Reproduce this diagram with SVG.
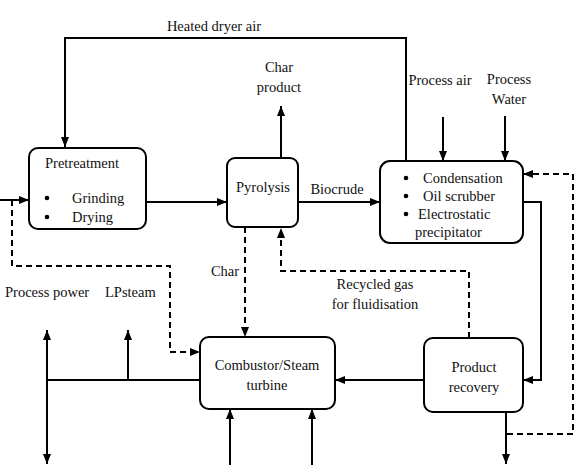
<svg xmlns="http://www.w3.org/2000/svg" width="579" height="465" viewBox="0 0 579 465" font-family="'Liberation Serif', 'Times New Roman', serif">
<style>
text{font-family:"Liberation Serif","Times New Roman",serif;font-size:14.5px;fill:#111}
.c{text-anchor:middle}
.box{fill:#fff;stroke:#000;stroke-width:2}
.ln{fill:none;stroke:#000;stroke-width:2}
.ds{fill:none;stroke:#000;stroke-width:2;stroke-dasharray:6 4}
.a{marker-end:url(#ah)}
</style>
<defs>
<marker id="ah" markerUnits="userSpaceOnUse" markerWidth="10" markerHeight="10" refX="10" refY="5" orient="auto-start-reverse" viewBox="0 0 10 10">
<path d="M0,1 L10,5 L0,9 z" fill="#000"/>
</marker>
</defs>
<g id="connectors">
<path class="ln a" d="M406,161 V38 H65 V147"/>
<path class="ln a" d="M0,200 H29"/>
<path class="ln a" d="M146,202 H227"/>
<path class="ln a" d="M281,158 V106"/>
<path class="ln a" d="M298,202 H380"/>
<path class="ln a" d="M443,117 V161"/>
<path class="ln a" d="M505,116 V161"/>
<path class="ln a" d="M523,202 H541 V380 H523"/>
<path class="ds a" d="M507,434 H573 V174 H523"/>
<path class="ds a" d="M469,338 V271 H281 V228"/>
<path class="ds a" d="M245,227 V337"/>
<path class="ds a" d="M12,200 V266 H170 V352 H200"/>
<path class="ln a" d="M506,412 V464"/>
<path class="ln a" d="M424,380 H335"/>
<path class="ln" d="M200,380 H47"/>
<path class="ln a" d="M47,380 V330"/>
<path class="ln a" d="M47,380 V464"/>
<path class="ln a" d="M128,380 V330"/>
<path class="ln a" d="M230,465 V409"/>
<path class="ln a" d="M312,465 V409"/>
</g>
<g id="labels">
<text class="c" x="214" y="31">Heated dryer air</text>
<text class="c" x="279" y="72">Char</text>
<text class="c" x="279" y="92">product</text>
<text class="c" x="440" y="85">Process air</text>
<text class="c" x="509" y="84">Process</text>
<text class="c" x="509" y="104">Water</text>
<text class="c" x="337" y="194">Biocrude</text>
<text class="c" x="225" y="276">Char</text>
<text class="c" x="375" y="289">Recycled gas</text>
<text class="c" x="375" y="309">for fluidisation</text>
<text x="5" y="297">Process power</text>
<text x="105" y="297">LPsteam</text>
</g>
<g id="pretreatment">
<rect class="box" x="29" y="148" width="117" height="81" rx="9"/>
<text x="45" y="168">Pretreatment</text>
<circle cx="47" cy="198" r="2.3"/>
<text x="72" y="203">Grinding</text>
<circle cx="47" cy="217" r="2.3"/>
<text x="72" y="222">Drying</text>
</g>
<g id="pyrolysis">
<rect class="box" x="227" y="158" width="71" height="69" rx="8"/>
<text class="c" x="263" y="192">Pyrolysis</text>
</g>
<g id="condensation">
<rect class="box" x="380" y="161" width="143" height="82" rx="10"/>
<circle cx="406" cy="178" r="2.3"/>
<text x="423" y="183">Condensation</text>
<circle cx="406" cy="196" r="2.3"/>
<text x="423" y="201">Oil scrubber</text>
<circle cx="406" cy="214" r="2.3"/>
<text x="418" y="219">Electrostatic</text>
<text x="415" y="237">precipitator</text>
</g>
<g id="combustor">
<rect class="box" x="200" y="337" width="135" height="72" rx="9"/>
<text class="c" x="267" y="370">Combustor/Steam</text>
<text class="c" x="267" y="390">turbine</text>
</g>
<g id="product-recovery">
<rect class="box" x="424" y="338" width="99" height="74" rx="9"/>
<text class="c" x="474" y="372">Product</text>
<text class="c" x="474" y="392">recovery</text>
</g>
</svg>
